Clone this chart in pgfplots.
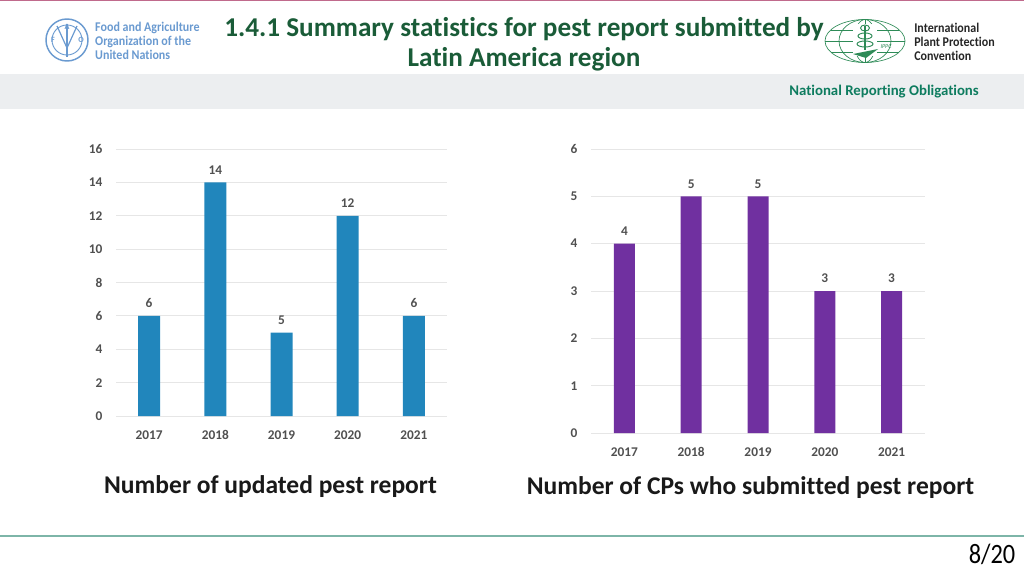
\documentclass[border=0pt]{standalone}
\usepackage{fontspec}
\setmainfont{Carlito}[Ligatures=CommonOff]
\usepackage{pgfplots}
\pgfplotsset{compat=1.18}
\definecolor{titlegreen}{HTML}{1A5C38}
\definecolor{nrogreen}{HTML}{0E7C5F}
\definecolor{faoblue}{HTML}{6A9AD0}
\definecolor{ippcgreen}{HTML}{2E8B57}
\definecolor{barblue}{HTML}{2186BC}
\definecolor{barpurple}{HTML}{7030A0}
\definecolor{gridgray}{HTML}{E6E6E6}
\definecolor{bandgray}{HTML}{ECEEF0}
\definecolor{tickgray}{HTML}{505050}
\definecolor{toprule}{HTML}{C06A8C}
\definecolor{footrule}{HTML}{7DB5A8}
\pgfplotsset{
  slidechart/.style={
    anchor=south west, scale only axis,
    ybar, axis x line=bottom, axis y line=left,
    x axis line style={draw=gridgray, line width=0.6pt, -},
    y axis line style={draw=none},
    xmin=-0.5, xmax=4.5, ymin=0,
    xtick={0,1,2,3,4},
    xticklabels={2017,2018,2019,2020,2021},
    tick style={draw=none},
    ymajorgrids, grid style={gridgray, line width=0.6pt},
    ticklabel style={font=\fontsize{10}{11}\selectfont\bfseries, text=tickgray},
    xticklabel style={anchor=north, text height=1.4ex, text depth=0pt, yshift=-5pt},
    yticklabel style={xshift=-4.5pt},
    /pgf/number format/assume math mode=true,
    nodes near coords,
    nodes near coords style={font=\fontsize{10}{11}\selectfont\bfseries, text=tickgray, yshift=2.5pt},
  },
}
\begin{document}
\begin{tikzpicture}[x=0.75pt,y=0.75pt]
\useasboundingbox (0,0) rectangle (1024,576);
% slide furniture, y counted up from the bottom edge in reference pixels
\fill[bandgray] (0,467) rectangle (1024,502);
\draw[toprule,line width=0.9pt] (0,575.5) -- (1024,575.5);
\draw[footrule,line width=1pt] (0,40) -- (1024,40);
\node[font=\fontsize{20.4}{22.5}\selectfont\bfseries,text=titlegreen,align=center,anchor=center]
  at (524,532) {1.4.1 Summary statistics for pest report submitted by\\Latin America region};
\node[font=\fontsize{11.1}{12}\selectfont\bfseries,text=nrogreen,anchor=east,inner sep=0pt] at (979,484) {National Reporting Obligations};
% FAO logo
\begin{scope}[faoblue]
\draw[line width=1.1pt] (67,536) circle (21);
\draw[line width=0.7pt] (67,536) circle (15);
\draw[line width=1.2pt] (67,519) -- (67,552);
\draw[line width=0.9pt] (57,550) -- (67,528) -- (77,550);
\node[font=\fontsize{6}{6}\selectfont\bfseries] at (53,536) {F};
\node[font=\fontsize{6}{6}\selectfont\bfseries] at (67,549) {A};
\node[font=\fontsize{6}{6}\selectfont\bfseries] at (81,536) {O};
\end{scope}
\node[font=\fontsize{10}{10.4}\selectfont\bfseries,text=faoblue,align=left,anchor=west,inner sep=0pt,xscale=0.9]
  at (95,535) {Food and Agriculture\\Organization of the\\United Nations};
% IPPC logo
\begin{scope}[ippcgreen,line width=0.5pt]
\draw (865,535) ellipse (40 and 21.5);
\draw (865,535) ellipse (26 and 21.5);
\draw (865,535) ellipse (11 and 21.5);
\draw (825,535) -- (905,535);
\draw (831,546) -- (899,546);
\draw (831,524) -- (899,524);
\draw (865,513.5) -- (865,556.5);
\fill[white] (853,520) rectangle (877,552);
\draw[line width=0.8pt] (865,526) -- (865,550);
\draw[line width=0.7pt] (865,540) ellipse (7 and 3);
\draw[line width=0.7pt] (865,548) ellipse (4.5 and 3);
\draw[line width=0.7pt] (865,532) ellipse (8 and 3);
\fill (853,522) -- (878,527) -- (866,518) -- cycle;
\node[font=\fontsize{4.5}{5}\selectfont\itshape] at (886,529) {IPPC};
\end{scope}
\node[font=\fontsize{10}{10.4}\selectfont\bfseries,text=black!85,align=left,anchor=west,inner sep=0pt,xscale=0.9]
  at (914,534) {International\\Plant Protection\\Convention};
% charts
\begin{axis}[slidechart, at={(87pt,120pt)}, width=248.25pt, height=200.25pt,
    bar width=16.5pt, ymax=16, ytick={0,2,...,16}]
  \addplot[fill=barblue, draw=none] coordinates {(0,6)(1,14)(2,5)(3,12)(4,6)};
\end{axis}
\begin{axis}[slidechart, at={(443.25pt,107.25pt)}, width=250.5pt, height=213pt,
    bar width=15.75pt, ymax=6, ytick={0,1,...,6}]
  \addplot[fill=barpurple, draw=none] coordinates {(0,4)(1,5)(2,5)(3,3)(4,3)};
\end{axis}
\node[font=\fontsize{19.15}{22}\selectfont\bfseries,text=black!90] at (270.5,89.5) {Number of updated pest report};
\node[font=\fontsize{19.15}{22}\selectfont\bfseries,text=black!90] at (750.5,88.5) {Number of CPs who submitted pest report};
\node[font=\fontsize{21}{22}\selectfont,text=black,xscale=0.87] at (992,22) {8/20};
\end{tikzpicture}
\end{document}
